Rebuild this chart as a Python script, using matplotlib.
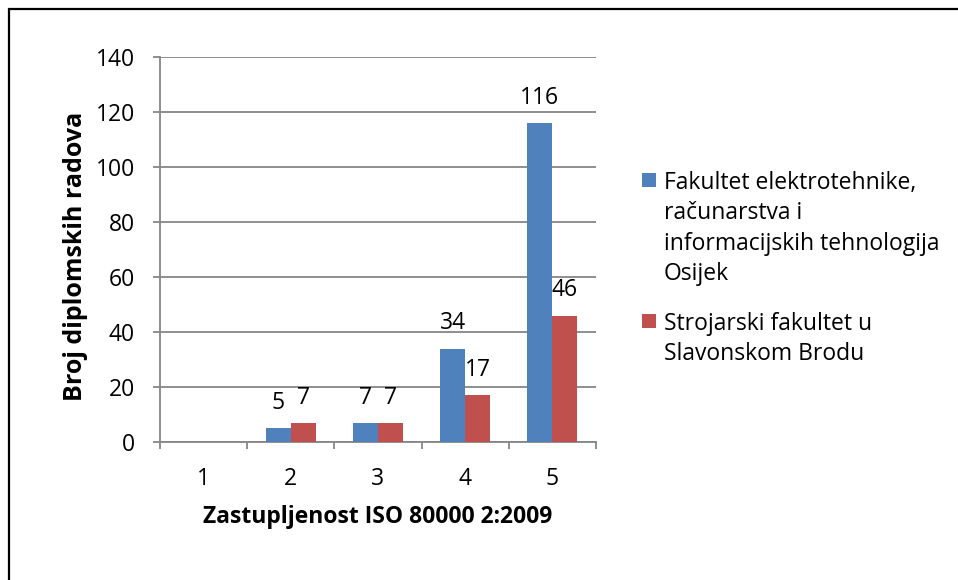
import matplotlib
matplotlib.use('Agg')
import matplotlib.pyplot as plt
from matplotlib.patches import Rectangle
import numpy as np

# ---- data ----
categories = ['1', '2', '3', '4', '5']
series_names = ['Fakultet elektrotehnike,\nračunarstva i\ninformacijskih tehnologija\nOsijek',
                'Strojarski fakultet u\nSlavonskom Brodu']
ferit = [np.nan, 5, 7, 34, 116]
sfsb = [np.nan, 7, 7, 17, 46]
yticks = [0, 20, 40, 60, 80, 100, 120, 140]
xlabel = 'Zastupljenost ISO 80000 2:2009'
ylabel = 'Broj diplomskih radova'

colors = ['#4F81BD', '#C0504D']
grid_c = '#868686'
FONT = 'Open Sans'
FS = 16.5

W, H = 958, 580
fig = plt.figure(figsize=(W / 100, H / 100), dpi=100)
plt.rcParams['font.family'] = [FONT, 'DejaVu Sans']

def fx(px):
    return px / W

def fy(py):
    return 1 - py / H

ax = fig.add_axes([fx(160), fy(442), fx(596) - fx(160), fy(57) - fy(442)])

x = np.arange(len(categories))
bw = 1 / 3.5
for i, (vals, c) in enumerate(zip([ferit, sfsb], colors)):
    offs = (i - 0.5) * bw
    ax.bar(x + offs, vals, width=bw, color=c, edgecolor='none', zorder=3)
    for xi, v in zip(x, vals):
        if not np.isnan(v):
            ax.annotate(f'{v:g}', (xi + offs, v), xytext=(0, 13.7), textcoords='offset points',
                        ha='center', va='baseline', fontsize=FS, color='black', zorder=4)

ax.set_xlim(-0.5, len(categories) - 0.5)
ax.set_ylim(0, 140)
ax.set_yticks(yticks)
ax.set_yticklabels([str(t) for t in yticks])
ax.yaxis.grid(True, color=grid_c, linewidth=1.3, zorder=0)
ax.tick_params(axis='y', length=5, width=1.3, color=grid_c, pad=13, labelsize=FS)

ax.set_xticks(np.arange(len(categories) + 1) - 0.5)
ax.set_xticklabels([])
ax.set_xticks(x, minor=True)
ax.set_xticklabels(categories, minor=True)
ax.tick_params(axis='x', which='major', length=5, width=1.3, color=grid_c, direction='out')
ax.tick_params(axis='x', which='minor', length=0, pad=17.7, labelsize=FS)

for s in ['top', 'right']:
    ax.spines[s].set_visible(False)
for s in ['left', 'bottom']:
    ax.spines[s].set_color(grid_c)
    ax.spines[s].set_linewidth(1.3)

fig.text(fx(76), fy(256), ylabel, rotation=90, ha='center', va='center',
         fontsize=18, fontweight='bold')
fig.text(fx(378), fy(523), xlabel, ha='center', va='baseline',
         fontsize=FS, fontweight='bold')

# legend (manual)
leg_first = [187, 328]
leg_last = [280, 360]
for name, c, yb, yl in zip(series_names, colors, leg_first, leg_last):
    fig.patches.append(Rectangle((fx(642), fy(yb)), fx(14), 14 / H, transform=fig.transFigure,
                                 facecolor=c, edgecolor='none'))
    fig.text(fx(664), fy(yl), name, ha='left', va='baseline', fontsize=FS, linespacing=1.35)

# outer frame
fig.patches.append(Rectangle((fx(9), -0.1), 1.2, fy(9) + 0.1, transform=fig.transFigure,
                             facecolor='none', edgecolor='black', linewidth=1.6, zorder=10))

fig.savefig('out.png', dpi=100)
